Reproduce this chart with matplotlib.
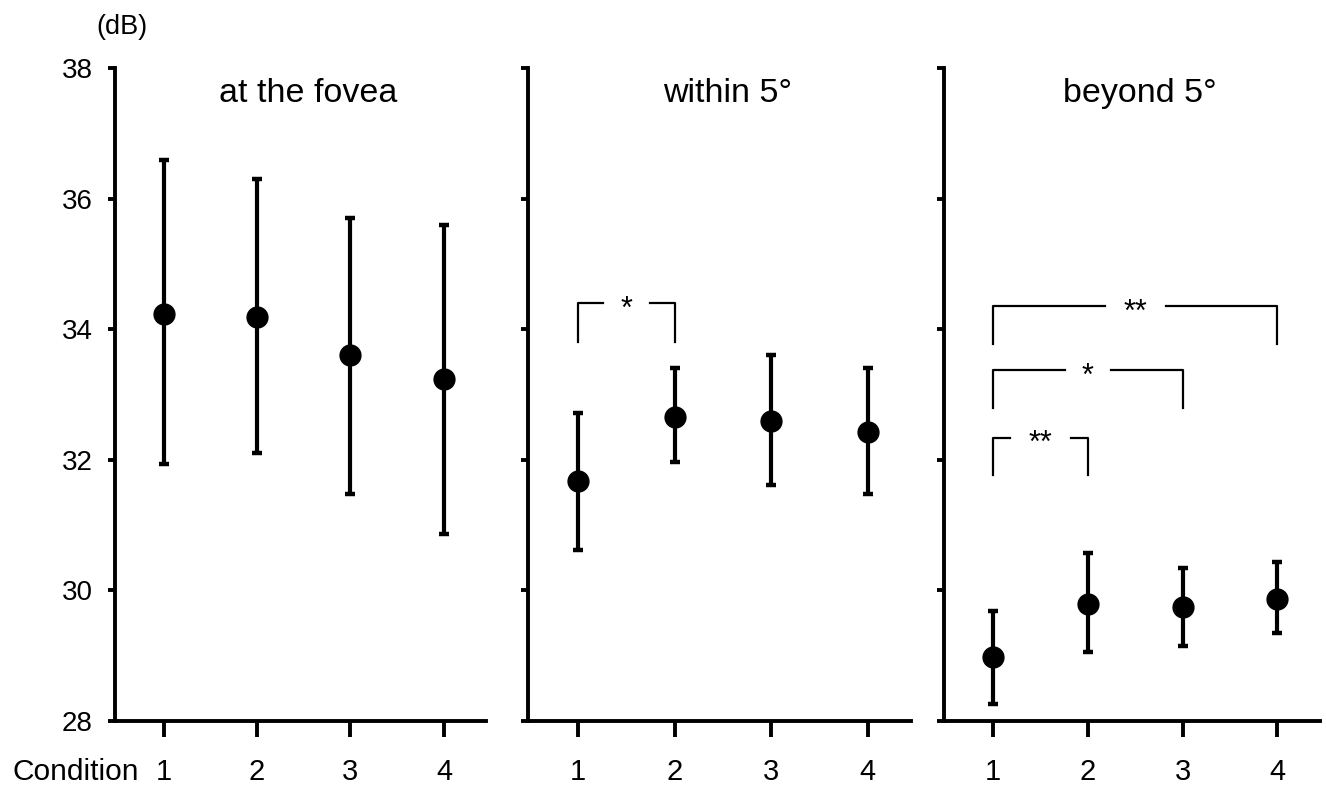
import numpy as np
import matplotlib
matplotlib.use('Agg')
import matplotlib.pyplot as plt

plt.rcParams['font.family'] = ['Liberation Sans', 'DejaVu Sans']

# dados
conditions = [1, 2, 3, 4]
titles = ['at the fovea', 'within 5°', 'beyond 5°']

fovea_mean = [34.23, 34.18, 33.61, 33.23]
fovea_low = [31.94, 32.11, 31.48, 30.87]
fovea_high = [36.59, 36.30, 35.71, 35.60]

within_mean = [31.67, 32.65, 32.59, 32.43]
within_low = [30.62, 31.96, 31.62, 31.47]
within_high = [32.72, 33.41, 33.60, 33.40]

beyond_mean = [28.98, 29.79, 29.75, 29.87]
beyond_low = [28.26, 29.06, 29.15, 29.35]
beyond_high = [29.69, 30.58, 30.35, 30.44]

yticks = [28, 30, 32, 34, 36, 38]

# significancia: (painel, cond a, cond b, topo, fim da perna, rotulo)
sig = [
    (1, 1, 2, 34.40, 33.80, '*'),
    (2, 1, 4, 34.35, 33.78, '**'),
    (2, 1, 3, 33.37, 32.79, '*'),
    (2, 1, 2, 32.34, 31.77, '**'),
]

means = [fovea_mean, within_mean, beyond_mean]
lows = [fovea_low, within_low, beyond_low]
highs = [fovea_high, within_high, beyond_high]

W, H = 1326, 787
fig = plt.figure(figsize=(W / 100, H / 100), dpi=100)

# posicoes dos paineis em pixels (esq, dir)
paineis = [(115, 486), (528, 911), (944, 1320)]
y_top, y_bot = 68, 721

axes = []
for i, (xl, xr) in enumerate(paineis):
    ax = fig.add_axes([xl / W, 1 - y_bot / H, (xr - xl) / W, (y_bot - y_top) / H])
    m = np.array(means[i])
    lo = np.array(lows[i])
    hi = np.array(highs[i])
    ax.errorbar(conditions, m, yerr=[m - lo, hi - m], fmt='o', color='black',
                markersize=15, elinewidth=3, capsize=3.5, capthick=3.2)
    ax.set_xlim(0.48, 4.45)
    ax.set_ylim(28, 38)
    ax.set_yticks(yticks)
    ax.set_xticks(conditions)
    ax.set_xticklabels([str(c) for c in conditions])
    if i == 0:
        ax.set_yticklabels([str(t) for t in yticks])
    else:
        ax.set_yticklabels([])
    for s in ['top', 'right']:
        ax.spines[s].set_visible(False)
    for s in ['left', 'bottom']:
        ax.spines[s].set_linewidth(2.8)
    ax.tick_params(axis='x', direction='out', length=11.5, width=2.8, pad=15, labelsize=21)
    ax.tick_params(axis='y', direction='out', length=5, width=2.8, pad=11, labelsize=20)
    ax.text(0.52, 0.985, titles[i], transform=ax.transAxes, ha='center', va='top', fontsize=24.5)
    ax.patch.set_alpha(0)
    axes.append(ax)

# colchetes de significancia
for p, a, b, ytop, yleg, lab in sig:
    ax = axes[p]
    meio = (a + b) / 2
    gap = 0.24 if lab == '*' else 0.32
    ax.plot([a, a, meio - gap], [yleg, ytop, ytop], color='black', lw=1.6)
    ax.plot([meio + gap, b, b], [ytop, ytop, yleg], color='black', lw=1.6)
    ax.text(meio, ytop - 0.1, lab, ha='center', va='center', fontsize=22)

fig.text(122 / W, 1 - 27 / H, '(dB)', ha='center', va='center', fontsize=19.5)
fig.text(12 / W, 1 - 780 / H, 'Condition', ha='left', va='baseline', fontsize=21.5)

fig.savefig('out.png', dpi=100)
